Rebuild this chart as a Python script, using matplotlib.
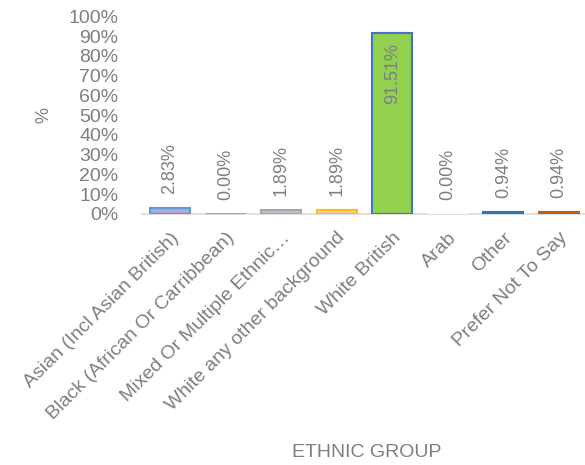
import numpy as np
import matplotlib.pyplot as plt
from matplotlib.ticker import PercentFormatter

plt.rcParams['font.family'] = ['Liberation Sans', 'DejaVu Sans']

groups = ["Asian (Incl Asian British)", "Black (African Or Carribbean)",
          "Mixed Or Multiple Ethnic\u2026", "White any other background",
          "White British", "Arab", "Other", "Prefer Not To Say"]
values = [2.83, 0.00, 1.89, 1.89, 91.51, 0.00, 0.94, 0.94]
fills = ["#b4a7d6", "#a5a5a5", "#c9b6d9", "#f8cbad", "#92d050", "#ffffff", "#9dc3e6", "#f4b183"]
edges = ["#5b9bd5", "#a5a5a5", "#a5a5a5", "#ffc000", "#4472c4", "#ffffff", "#2e75b6", "#c55a11"]
grey = "#7f7f7f"

fig = plt.figure(figsize=(5.85, 4.65), dpi=100)
ax = fig.add_axes([0.243, 0.54, 0.76, 0.425])

x = np.arange(len(groups))
ax.bar(x, values, width=0.72, color=fills, edgecolor=edges, linewidth=1.5, zorder=3)

for xi, v in zip(x, values):
    if v > 50:
        ax.text(xi, v - 5, f"{v:.2f}%", rotation=90, ha="center", va="top",
                color=grey, fontsize=13)
    else:
        ax.text(xi, v + 7, f"{v:.2f}%", rotation=90, ha="center", va="bottom",
                color=grey, fontsize=13)

ax.set_xlim(-0.5, len(groups) - 0.5)
ax.set_ylim(0, 100)
ax.set_yticks(np.arange(0, 101, 10))
ax.yaxis.set_major_formatter(PercentFormatter(decimals=0))
ax.tick_params(axis="y", length=0, labelsize=14, labelcolor=grey, pad=17)
ax.tick_params(axis="x", length=0, labelsize=14, labelcolor=grey, pad=11)
ax.set_xticks(x)
ax.set_xticklabels(groups, rotation=45, ha="right", rotation_mode="anchor")

for s in ["top", "right", "left"]:
    ax.spines[s].set_visible(False)
ax.spines["bottom"].set_color("#d9d9d9")
ax.spines["bottom"].set_linewidth(1.2)

ax.set_ylabel("%", color=grey, fontsize=13, labelpad=12)
fig.text(0.626, 0.008, "ETHNIC GROUP", ha="center", va="bottom", color=grey, fontsize=14)

fig.savefig("out.png", dpi=100)
